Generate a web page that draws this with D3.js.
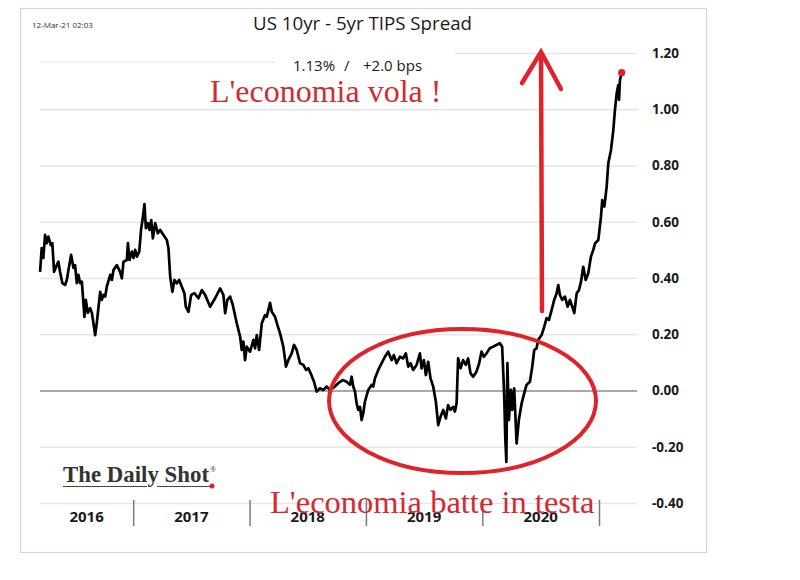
<!DOCTYPE html>
<html>
<head>
<meta charset="utf-8">
<script src="https://cdn.jsdelivr.net/npm/d3@7"></script>
<style>
  body { margin: 0; background: #fff; }
  svg { display: block; }
</style>
</head>
<body>
<svg id="chart" width="800" height="580"></svg>
<script>
// US 10yr - 5yr TIPS spread (decimal year, %)
const yearFrac = [
  2016.202, 2016.216, 2016.230, 2016.245, 2016.259, 2016.273, 2016.294, 2016.307, 2016.322, 2016.345,
  2016.359, 2016.373, 2016.393, 2016.416, 2016.431, 2016.445, 2016.468, 2016.488, 2016.502, 2016.517,
  2016.531, 2016.545, 2016.560, 2016.582, 2016.594, 2016.611, 2016.631, 2016.646, 2016.659, 2016.674,
  2016.688, 2016.717, 2016.731, 2016.745, 2016.760, 2016.774, 2016.803, 2016.817, 2016.831, 2016.860,
  2016.888, 2016.903, 2016.917, 2016.946, 2016.955, 2016.968, 2016.989, 2017.003, 2017.017, 2017.032,
  2017.052, 2017.069, 2017.080, 2017.097, 2017.109, 2017.126, 2017.140, 2017.155, 2017.169, 2017.189,
  2017.212, 2017.232, 2017.260, 2017.289, 2017.303, 2017.318, 2017.337, 2017.355, 2017.375, 2017.395,
  2017.418, 2017.440, 2017.452, 2017.475, 2017.498, 2017.526, 2017.561, 2017.590, 2017.618, 2017.661,
  2017.704, 2017.747, 2017.775, 2017.790, 2017.809, 2017.833, 2017.856, 2017.890, 2017.919, 2017.933,
  2017.947, 2017.961, 2017.976, 2018.004, 2018.033, 2018.047, 2018.062, 2018.082, 2018.105, 2018.133,
  2018.148, 2018.176, 2018.191, 2018.219, 2018.239, 2018.262, 2018.290, 2018.313, 2018.333, 2018.362,
  2018.382, 2018.405, 2018.434, 2018.462, 2018.485, 2018.505, 2018.525, 2018.554, 2018.577, 2018.605,
  2018.634, 2018.663, 2018.691, 2018.725, 2018.762, 2018.800, 2018.834, 2018.863, 2018.877, 2018.891,
  2018.906, 2018.920, 2018.934, 2018.949, 2018.963, 2018.977, 2018.991, 2019.020, 2019.049, 2019.063,
  2019.077, 2019.106, 2019.135, 2019.163, 2019.191, 2019.221, 2019.240, 2019.264, 2019.292, 2019.320,
  2019.343, 2019.363, 2019.384, 2019.406, 2019.435, 2019.464, 2019.478, 2019.498, 2019.515, 2019.535,
  2019.555, 2019.578, 2019.601, 2019.621, 2019.641, 2019.664, 2019.687, 2019.706, 2019.727, 2019.749,
  2019.764, 2019.779, 2019.792, 2019.813, 2019.835, 2019.858, 2019.878, 2019.899, 2019.921, 2019.950,
  2019.973, 2019.993, 2020.013, 2020.036, 2020.064, 2020.093, 2020.120, 2020.150, 2020.170, 2020.187,
  2020.197, 2020.206, 2020.215, 2020.228, 2020.245, 2020.256, 2020.273, 2020.294, 2020.313, 2020.337,
  2020.359, 2020.379, 2020.408, 2020.428, 2020.445, 2020.465, 2020.479, 2020.508, 2020.531, 2020.551,
  2020.571, 2020.594, 2020.616, 2020.637, 2020.651, 2020.665, 2020.685, 2020.708, 2020.731, 2020.751,
  2020.771, 2020.788, 2020.809, 2020.828, 2020.846, 2020.865, 2020.886, 2020.908, 2020.931, 2020.951,
  2020.966, 2020.994, 2021.017, 2021.028, 2021.046, 2021.066, 2021.080, 2021.103, 2021.123, 2021.137,
  2021.152, 2021.166, 2021.172, 2021.180, 2021.195
];
const spread = [
  0.422, 0.506, 0.471, 0.553, 0.524, 0.547, 0.517, 0.524, 0.422, 0.446,
  0.458, 0.422, 0.382, 0.375, 0.393, 0.428, 0.482, 0.436, 0.446, 0.382,
  0.411, 0.382, 0.387, 0.262, 0.322, 0.276, 0.293, 0.276, 0.240, 0.197,
  0.240, 0.351, 0.322, 0.340, 0.334, 0.369, 0.411, 0.393, 0.428, 0.446,
  0.422, 0.399, 0.458, 0.464, 0.524, 0.464, 0.494, 0.471, 0.500, 0.476,
  0.494, 0.577, 0.606, 0.663, 0.577, 0.595, 0.571, 0.606, 0.541, 0.595,
  0.559, 0.571, 0.553, 0.535, 0.506, 0.405, 0.351, 0.393, 0.381, 0.393,
  0.369, 0.346, 0.298, 0.280, 0.340, 0.346, 0.328, 0.357, 0.340, 0.298,
  0.328, 0.363, 0.340, 0.275, 0.322, 0.334, 0.304, 0.239, 0.191, 0.144,
  0.174, 0.108, 0.156, 0.138, 0.180, 0.150, 0.197, 0.144, 0.239, 0.268,
  0.262, 0.312, 0.280, 0.262, 0.233, 0.203, 0.156, 0.085, 0.108, 0.132,
  0.162, 0.144, 0.097, 0.091, 0.073, 0.079, 0.061, 0.031, -0.004, 0.008,
  0.002, 0.014, 0.002, 0.011, 0.026, 0.037, 0.031, 0.020, 0.049, 0.014,
  -0.004, -0.046, -0.069, -0.058, -0.105, -0.081, -0.040, 0.002, 0.020, 0.014,
  0.043, 0.073, 0.097, 0.120, 0.138, 0.108, 0.126, 0.097, 0.120, 0.114,
  0.132, 0.085, 0.097, 0.073, 0.091, 0.132, 0.079, 0.108, 0.055, 0.102,
  0.043, 0.014, -0.040, -0.123, -0.093, -0.069, -0.099, -0.052, -0.069, -0.058,
  -0.075, -0.046, 0.114, 0.079, 0.108, 0.091, 0.114, 0.061, 0.049, 0.067,
  0.097, 0.138, 0.120, 0.132, 0.150, 0.156, 0.162, 0.168, 0.156, -0.010,
  -0.169, -0.254, 0.097, -0.105, 0.002, -0.069, 0.008, -0.188, -0.105, -0.046,
  -0.010, 0.020, 0.031, 0.085, 0.144, 0.150, 0.180, 0.197, 0.227, 0.257,
  0.251, 0.286, 0.322, 0.346, 0.375, 0.340, 0.322, 0.334, 0.298, 0.322,
  0.298, 0.275, 0.346, 0.357, 0.387, 0.440, 0.393, 0.417, 0.476, 0.500,
  0.523, 0.535, 0.618, 0.677, 0.654, 0.725, 0.808, 0.855, 0.926, 0.997,
  1.057, 1.086, 1.033, 1.104, 1.130
];
const yTicks = [-0.4, -0.2, 0, 0.2, 0.4, 0.6, 0.8, 1.0, 1.2];
const yearBreaks = [2017, 2018, 2019, 2020, 2021];
const yearLabels = ["2016", "2017", "2018", "2019", "2020"];

const stampText = "12-Mar-21 02:03";
const titleText = "US 10yr - 5yr TIPS Spread";
const lastText = ["1.13%", "/", "+2.0 bps"];
const noteUp = "L'economia vola !";
const noteDown = "L'economia batte in testa";

const RED = "#e0222a";
const SANS = "'Open Sans', 'DejaVu Sans', sans-serif";
const SERIF = "'Liberation Serif', 'DejaVu Serif', serif";

function toDate(t) {
  const yr = Math.floor(t);
  const a = new Date(yr, 0, 1), b = new Date(yr + 1, 0, 1);
  return new Date(+a + (t - yr) * (b - a));
}
const data = yearFrac.map((t, i) => ({ date: toDate(t), v: spread[i] }));

const svg = d3.select("#chart");
const plotLeft = 40, plotRight = 637;

const x = d3.scaleTime()
  .domain([new Date(2016, 0, 1), new Date(2021, 0, 1)])
  .range([16.5, 599]);
const y = d3.scaleLinear().domain([-0.4, 1.2]).range([503, 53]);

// frame
svg.append("rect")
  .attr("x", 20.5).attr("y", 8.5).attr("width", 686).attr("height", 544)
  .attr("fill", "#fff").attr("stroke", "#d4d4d4").attr("stroke-width", 1.2)

// gridlines
const grid = svg.append("g")
  .attr("transform", "translate(" + plotLeft + ",0)")
  .call(d3.axisRight(y).tickValues(yTicks).tickSize(plotRight - plotLeft).tickFormat(""))
grid.select(".domain").remove()
grid.selectAll(".tick line")
  .attr("stroke", d => d === 0 ? "#8c8c8c" : "#e6e6e6")
  .attr("stroke-width", d => d === 0 ? 1.6 : 1.5)

// header box hides the left part of the top gridline
svg.append("rect")
  .attr("x", plotLeft - 1).attr("y", 46).attr("width", 416).attr("height", 14)
  .attr("fill", "#fff")
svg.append("line")
  .attr("x1", plotLeft).attr("x2", 275).attr("y1", 62).attr("y2", 62)
  .attr("stroke", "#ebebeb").attr("stroke-width", 1.5)

// y labels
const yAxis = svg.append("g")
  .attr("transform", "translate(649,0)")
  .call(d3.axisRight(y).tickValues(yTicks).tickSize(0).tickPadding(3).tickFormat(d => d.toFixed(2)))
yAxis.select(".domain").remove()
yAxis.selectAll("text")
  .attr("font-family", SANS).attr("font-size", 13.5).attr("font-weight", 700)
  .attr("fill", "#1a1a1a")

// year separators + labels
const xAxis = svg.append("g")
  .attr("transform", "translate(0,500)")
  .call(d3.axisBottom(x).tickValues(yearBreaks.map(yr => new Date(yr, 0, 1))).tickSize(26).tickFormat(""))
xAxis.select(".domain").remove()
xAxis.selectAll(".tick line").attr("stroke", "#7a7a7a").attr("stroke-width", 1.5)

svg.append("g").selectAll("text")
  .data(yearLabels)
  .join("text")
  .attr("x", d => {
    const a = Math.max(x(new Date(+d, 0, 1)), plotLeft)
    const b = x(new Date(+d + 1, 0, 1))
    return (a + b) / 2
  })
  .attr("y", 522)
  .attr("text-anchor", "middle")
  .attr("font-family", SANS).attr("font-size", 15).attr("font-weight", 700)
  .attr("fill", "#1a1a1a")
  .text(d => d)

// series
svg.append("path")
  .datum(data)
  .attr("fill", "none")
  .attr("stroke", "#000")
  .attr("stroke-width", 2.7)
  .attr("stroke-linejoin", "round")
  .attr("d", d3.line().x(d => x(d.date)).y(d => y(d.v)))

const last = data[data.length - 1]
svg.append("circle")
  .attr("cx", x(last.date)).attr("cy", y(last.v)).attr("r", 3.6)
  .attr("fill", RED)

// header texts
svg.append("text")
  .attr("x", 32).attr("y", 28)
  .attr("font-family", SANS).attr("font-size", 8).attr("fill", "#333")
  .text(stampText)

svg.append("text")
  .attr("x", 253).attr("y", 30)
  .attr("font-family", SANS).attr("font-size", 17.5).attr("fill", "#1a1a1a")
  .attr("textLength", 219).attr("lengthAdjust", "spacingAndGlyphs")
  .text(titleText)

const sub = svg.append("text")
  .attr("y", 71)
  .attr("font-family", SANS).attr("font-size", 15).attr("fill", "#1a1a1a")
sub.append("tspan").attr("x", 293).text(lastText[0])
sub.append("tspan").attr("x", 344).text(lastText[1])
sub.append("tspan").attr("x", 363).text(lastText[2])

// logo
const logo = svg.append("g")
logo.append("text")
  .attr("x", 63).attr("y", 482)
  .attr("font-family", SERIF).attr("font-size", 23).attr("font-weight", 700).attr("fill", "#333")
  .attr("textLength", 146).attr("lengthAdjust", "spacingAndGlyphs")
  .text("The Daily Shot")
logo.append("text")
  .attr("x", 210).attr("y", 472)
  .attr("font-family", SERIF).attr("font-size", 8).attr("fill", "#2b2b2b")
  .text("®")
logo.append("line").attr("x1", 63).attr("x2", 147).attr("y1", 486.5).attr("y2", 486.5)
  .attr("stroke", "#444").attr("stroke-width", 1.2)
logo.append("line").attr("x1", 157).attr("x2", 210).attr("y1", 486.5).attr("y2", 486.5)
  .attr("stroke", "#444").attr("stroke-width", 1.2)
logo.append("circle").attr("cx", 212).attr("cy", 486).attr("r", 2.5).attr("fill", RED)

// red annotations
svg.append("ellipse")
  .attr("cx", 462.5).attr("cy", 401).attr("rx", 133.5).attr("ry", 72)
  .attr("fill", "none").attr("stroke", RED).attr("stroke-width", 4)

const arrow = svg.append("g")
  .attr("fill", "none").attr("stroke", RED).attr("stroke-width", 4.5).attr("stroke-linecap", "round")
arrow.append("line").attr("x1", 542).attr("y1", 311).attr("x2", 541).attr("y2", 54)
arrow.append("path").attr("d", "M522,83 L541,52 L561,89")

svg.append("text")
  .attr("x", 210).attr("y", 102)
  .attr("font-family", SERIF).attr("font-size", 32).attr("fill", "#d42a30")
  .text(noteUp)

svg.append("text")
  .attr("x", 270).attr("y", 513)
  .attr("font-family", SERIF).attr("font-size", 32.5).attr("fill", "#d42a30")
  .text(noteDown)
</script>
</body>
</html>
